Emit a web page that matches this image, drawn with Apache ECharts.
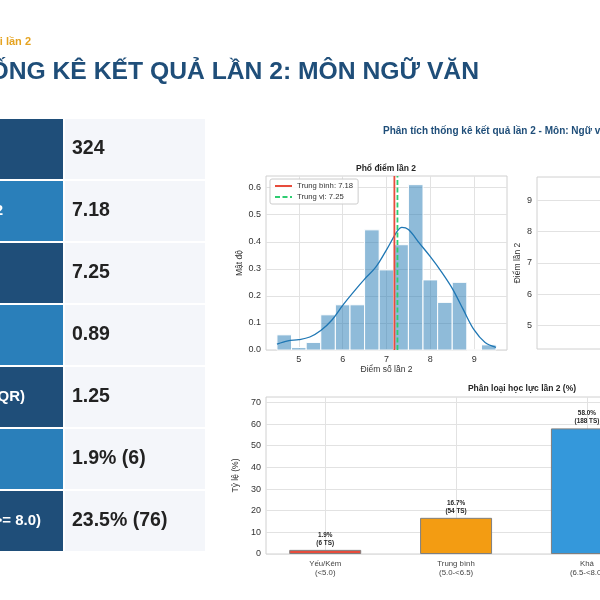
<!DOCTYPE html>
<html><head><meta charset="utf-8">
<script src="https://cdn.jsdelivr.net/npm/echarts@6/dist/echarts.min.js"></script>
<style>html,body{margin:0;padding:0;background:#fff}#c{width:600px;height:600px}</style>
</head><body><div id="c"></div>
<script>
// ---------- DATA ----------
const pageSubtitle = 'Báo cáo kết quả thi lần 2';
const pageTitle = 'THỐNG KÊ KẾT QUẢ LẦN 2: MÔN NGỮ VĂN';
const figTitle = 'Phân tích thống kê kết quả lần 2 - Môn: Ngữ văn';
const tableLabels = ['Tổng số thí sinh','Điểm trung bình lần 2','Trung vị','Độ lệch chuẩn','Khoảng tứ phân vị (IQR)','Tỷ lệ Yếu/Kém','Tỷ lệ Giỏi (>= 8.0)'];
const tableValues = ['324','7.18','7.25','0.89','1.25','1.9% (6)','23.5% (76)'];

const binEdges = [4.5,4.833,5.167,5.5,5.833,6.167,6.5,6.833,7.167,7.5,7.833,8.167,8.5,8.833,9.167,9.5];
const binDensity = [0.056,0.009,0.028,0.130,0.167,0.167,0.444,0.296,0.389,0.611,0.259,0.176,0.250,0,0.019];
const kdeX = [4.5,4.75,5.0,5.25,5.5,5.75,6.0,6.25,6.5,6.75,7.0,7.25,7.35,7.5,7.75,8.0,8.25,8.5,8.75,9.0,9.25,9.5];
const kdeY = [0.022,0.034,0.038,0.048,0.072,0.11,0.165,0.215,0.262,0.305,0.37,0.44,0.453,0.445,0.395,0.345,0.29,0.228,0.15,0.074,0.028,0.01];
const meanScore = 7.18;
const medianScore = 7.25;
const histXTicks = [5,6,7,8,9];
const histYTicks = [0,0.1,0.2,0.3,0.4,0.5,0.6];
const boxYTicks = [5,6,7,8,9];

const categories = ['Yếu/Kém\n(<5.0)','Trung bình\n(5.0-<6.5)','Khá\n(6.5-<8.0)','Giỏi\n(>=8.0)'];
const catPct = [1.9,16.7,58.0,23.5];
const catCount = [6,54,188,76];
const barYTicks = [0,10,20,30,40,50,60,70];

// ---------- STYLE / LAYOUT ----------
const FONT = 'Liberation Sans, Arial, sans-serif';
const catColors = ['#e74c3c','#f39c12','#3498db','#2ecc71'];
const labelEnds = [-4,3,-4,-4,25,-4,41];
const rowTop = 119, rowPitch = 62, rowH = 60;
const gridLine = '#e2e2e2', frame = '#d0d0d0', tickColor = '#333';

const graphics = [];
graphics.push({type:'text', style:{text:pageSubtitle, x:31, y:41.5, textAlign:'right', textVerticalAlign:'middle', font:'bold 11px '+FONT, fill:'#e5a320'}});
graphics.push({type:'text', style:{text:pageTitle, x:479, y:72, textAlign:'right', textVerticalAlign:'middle', font:'bold 24.7px '+FONT, fill:'#1f4e79'}});
tableLabels.forEach((lab,i)=>{
  const y0 = rowTop + i*rowPitch;
  graphics.push({type:'rect', shape:{x:-200, y:y0, width:263, height:rowH}, style:{fill: i%2===0 ? '#1f4e79' : '#2a7fba'}});
  graphics.push({type:'rect', shape:{x:65, y:y0, width:140, height:rowH}, style:{fill:'#f4f6fa'}});
  graphics.push({type:'text', style:{text:lab, x:labelEnds[i], y:y0+rowH/2, textAlign:'right', textVerticalAlign:'middle', font:'bold 15px '+FONT, fill:'#fff'}});
  graphics.push({type:'text', style:{text:tableValues[i], x:72, y:y0+rowH/2, textAlign:'left', textVerticalAlign:'middle', font:'bold 19.5px '+FONT, fill:'#222'}});
});
graphics.push({type:'text', style:{text:figTitle, x:383, y:131, textAlign:'left', textVerticalAlign:'middle', font:'bold 10px '+FONT, fill:'#1f4e79'}});
graphics.push({type:'text', style:{text:'Phổ điểm lần 2', x:386, y:169, textAlign:'center', textVerticalAlign:'middle', font:'bold 8.5px '+FONT, fill:'#262626'}});
graphics.push({type:'text', style:{text:'Phân loại học lực lần 2 (%)', x:522, y:389, textAlign:'center', textVerticalAlign:'middle', font:'bold 8.5px '+FONT, fill:'#262626'}});

function valAxis(grid, min, max, ticks, fmt, name, gap, extra){
  return Object.assign({
    gridIndex:grid, type:'value', min:min, max:max,
    axisLine:{show:false}, axisTick:{show:false, customValues:ticks},
    axisLabel:{customValues:ticks, formatter:fmt, fontSize:9, color:tickColor, fontFamily:FONT, margin:5},
    splitLine:{show:true, lineStyle:{color:gridLine, width:1}},
    name:name, nameLocation:'middle', nameGap:gap,
    nameTextStyle:{fontSize:8.5, color:tickColor, fontFamily:FONT}
  }, extra||{});
}

const option = {
  animation:false,
  graphic:{elements:graphics},
  grid:[
    {left:266, top:176, width:241, height:174, show:true, borderColor:frame, borderWidth:1, outerBoundsMode:'none', containLabel:false},
    {left:537, top:177, width:241, height:172, show:true, borderColor:frame, borderWidth:1, outerBoundsMode:'none', containLabel:false},
    {left:266, top:397, width:511, height:157, show:true, borderColor:frame, borderWidth:1, outerBoundsMode:'none', containLabel:false}
  ],
  xAxis:[
    valAxis(0, 4.25, 9.75, histXTicks, v=>String(v), 'Điểm số lần 2', 15),
    {gridIndex:1, type:'category', data:[''], axisLine:{show:false}, axisTick:{show:false}, axisLabel:{show:false}, splitLine:{show:false}},
    valAxis(2, -0.4525, 3.4525, [0,1,2,3], v=>categories[Math.round(v)], '', 0,
      {axisLabel:{customValues:[0,1,2,3], formatter:v=>categories[Math.round(v)], fontSize:7.8, lineHeight:9.5, color:'#444', fontFamily:FONT, margin:5}})
  ],
  yAxis:[
    valAxis(0, 0, 0.643, histYTicks, v=>v.toFixed(1), 'Mật độ', 19),
    valAxis(1, 4.25, 9.75, boxYTicks, v=>String(v), 'Điểm lần 2', 15, {}),
    valAxis(2, 0, 72.5, barYTicks, v=>String(v), 'Tỷ lệ (%)', 19)
  ],
  legend:{
    data:['Trung bình: '+meanScore, 'Trung vị: '+medianScore],
    orient:'vertical', left:270, top:179, itemWidth:17, itemHeight:8, itemGap:3,
    padding:[3,5,3,4], backgroundColor:'rgba(255,255,255,0.85)', borderColor:'#cccccc', borderWidth:1, borderRadius:2,
    itemStyle:{opacity:0},
    textStyle:{fontSize:7.7, color:'#333', fontFamily:FONT}
  },
  series:[
    {type:'custom', xAxisIndex:0, yAxisIndex:0,
      data: binDensity.map((d,i)=>[binEdges[i], binEdges[i+1], d]),
      encode:{x:[0,1], y:2},
      renderItem:(params, api)=>{
        const p0 = api.coord([api.value(0), api.value(2)]);
        const p1 = api.coord([api.value(1), 0]);
        return {type:'rect', shape:{x:p0[0], y:p0[1], width:p1[0]-p0[0], height:p1[1]-p0[1]},
          style:{fill:'rgba(31,119,180,0.5)', stroke:'#ffffff', lineWidth:1}};
      }},
    {type:'line', xAxisIndex:0, yAxisIndex:0, data:kdeX.map((x,i)=>[x,kdeY[i]]), smooth:0.35, symbol:'none',
      lineStyle:{color:'#1f77b4', width:1.3}, z:3},
    {name:'Trung bình: '+meanScore, type:'line', xAxisIndex:0, yAxisIndex:0, data:[[meanScore,0],[meanScore,0.643]],
      symbol:'none', color:'#e74c3c', lineStyle:{color:'#e74c3c', width:1.8}, z:4},
    {name:'Trung vị: '+medianScore, type:'line', xAxisIndex:0, yAxisIndex:0, data:[[medianScore,0],[medianScore,0.643]],
      symbol:'none', color:'#2ecc71', lineStyle:{color:'#2ecc71', width:1.8, type:[5,2.5]}, z:4},
    {type:'bar', xAxisIndex:2, yAxisIndex:2, barWidth:72,
      data: catPct.map((v,i)=>({value:[i,v], itemStyle:{color:catColors[i]}})),
      itemStyle:{borderColor:'#7f7f7f', borderWidth:1},
      label:{show:true, position:'top', distance:3, fontSize:6.4, lineHeight:7.8, fontWeight:'bold', color:'#262626', fontFamily:FONT,
        formatter:p=>catPct[p.dataIndex].toFixed(1)+'%\n('+catCount[p.dataIndex]+' TS)'}}
  ]
};
const chart = echarts.init(document.getElementById('c'), null, {renderer:'canvas'});
chart.setOption(option);
</script></body></html>
